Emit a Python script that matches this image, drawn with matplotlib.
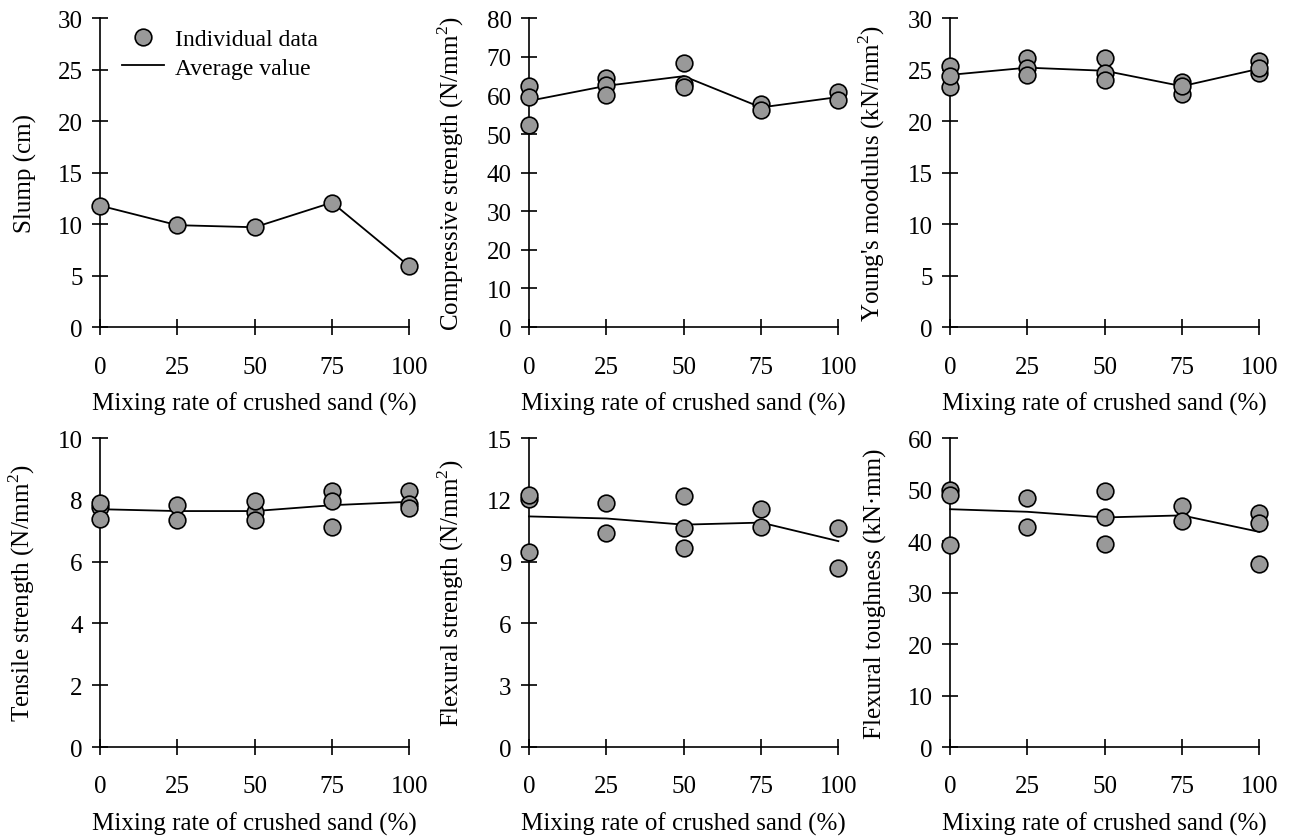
import matplotlib
matplotlib.use('Agg')
import matplotlib.pyplot as plt

plt.rcParams['font.family'] = ['Liberation Serif', 'DejaVu Serif']
plt.rcParams['mathtext.fontset'] = 'custom'
plt.rcParams['mathtext.rm'] = 'Liberation Serif'
plt.rcParams['font.size'] = 18

# ---- data ----
mix = [0, 25, 50, 75, 100]

slump_x = [0, 25, 50, 75, 100]
slump_pts = [11.8, 9.9, 9.7, 12.1, 5.9]
slump_avg = [11.8, 9.9, 9.7, 12.1, 5.9]

comp_x = [0, 0, 0, 25, 25, 25, 50, 50, 50, 75, 75, 100, 100]
comp_pts = [62.4, 59.7, 52.3, 64.6, 62.7, 60.2, 68.4, 62.9, 62.3, 57.9, 56.3, 61.0, 58.9]
comp_avg = [58.6, 62.5, 65.0, 56.9, 59.6]

young_x = [0, 0, 0, 25, 25, 25, 50, 50, 50, 75, 75, 75, 100, 100, 100]
young_pts = [25.4, 23.3, 24.4, 26.1, 25.2, 24.5, 26.1, 24.7, 24.0, 23.8, 22.6, 23.4, 25.8, 24.7, 25.2]
young_avg = [24.5, 25.2, 24.9, 23.4, 25.1]

tens_x = [0, 0, 0, 25, 25, 50, 50, 50, 75, 75, 75, 100, 100, 100]
tens_pts = [7.78, 7.90, 7.38, 7.83, 7.35, 7.60, 7.96, 7.35, 8.28, 7.96, 7.14, 8.28, 7.86, 7.73]
tens_avg = [7.70, 7.64, 7.64, 7.83, 7.94]

flex_x = [0, 0, 0, 25, 25, 50, 50, 50, 75, 75, 100, 100]
flex_pts = [12.07, 12.24, 9.46, 11.83, 10.38, 12.2, 10.65, 9.65, 11.56, 10.67, 10.65, 8.71]
flex_avg = [11.2, 11.1, 10.8, 10.9, 10.0]

tough_x = [0, 0, 0, 25, 25, 50, 50, 50, 75, 75, 100, 100, 100]
tough_pts = [49.9, 49.0, 39.2, 48.4, 42.8, 49.7, 44.6, 39.5, 46.8, 43.9, 45.5, 43.5, 35.5]
tough_avg = [46.2, 45.7, 44.6, 45.0, 41.8]

panels = [
    (slump_x, slump_pts, slump_avg, 30, 5, 'Slump (cm)'),
    (comp_x, comp_pts, comp_avg, 80, 10, r'Compressive strength (N/mm$^\mathrm{2}$)'),
    (young_x, young_pts, young_avg, 30, 5, r"Young's moodulus (kN/mm$^\mathrm{2}$)"),
    (tens_x, tens_pts, tens_avg, 10, 2, r'Tensile strength (N/mm$^\mathrm{2}$)'),
    (flex_x, flex_pts, flex_avg, 15, 3, r'Flexural strength (N/mm$^\mathrm{2}$)'),
    (tough_x, tough_pts, tough_avg, 60, 10, 'Flexural toughness (kN\u00b7mm)'),
]

# axes positions (figure fraction)
lefts = [0.0776, 0.4104, 0.737]
bottoms = [0.608, 0.1063]
w, h = 0.2400, 0.369

fig = plt.figure(figsize=(12.89, 8.37), dpi=100)

for k, (px, py, pavg, ymax, ystep, ylab) in enumerate(panels):
    ax = fig.add_axes([lefts[k % 3], bottoms[k // 3], w, h])
    ax.plot(mix, pavg, color='black', lw=1.3, clip_on=False, zorder=2,
            label='Average value')
    ax.plot(px, py, 'o', ls='none', ms=12, mfc='#999999', mec='black',
            mew=1.2, clip_on=False, zorder=3, label='Individual data')
    ax.set_xlim(0, 100)
    ax.set_ylim(0, ymax)
    ax.set_xticks(mix)
    ax.set_yticks(list(range(0, ymax + 1, ystep)))
    for s in ['top', 'right']:
        ax.spines[s].set_visible(False)
    for s in ['left', 'bottom']:
        ax.spines[s].set_linewidth(1.2)
    ax.tick_params(axis='both', direction='inout', length=11, width=1.2,
                   labelsize=18)
    ax.tick_params(axis='x', pad=15)
    ax.tick_params(axis='y', pad=7)
    ax.set_ylabel(ylab, fontsize=18)
    ax.yaxis.set_label_coords(-0.205, 0.5)
    ax.set_xlabel('Mixing rate of crushed sand (%)', fontsize=18)
    ax.xaxis.set_label_coords(0.5, -0.21)
    if k == 0:
        hs, ls = ax.get_legend_handles_labels()
        ax.legend(hs[::-1], ls[::-1], loc='upper left',
                  bbox_to_anchor=(0.07, 0.967), frameon=False,
                  borderpad=0, borderaxespad=0, handlelength=1.8,
                  handletextpad=0.45, labelspacing=0.3, fontsize=17)

fig.savefig('out.png', dpi=100)
